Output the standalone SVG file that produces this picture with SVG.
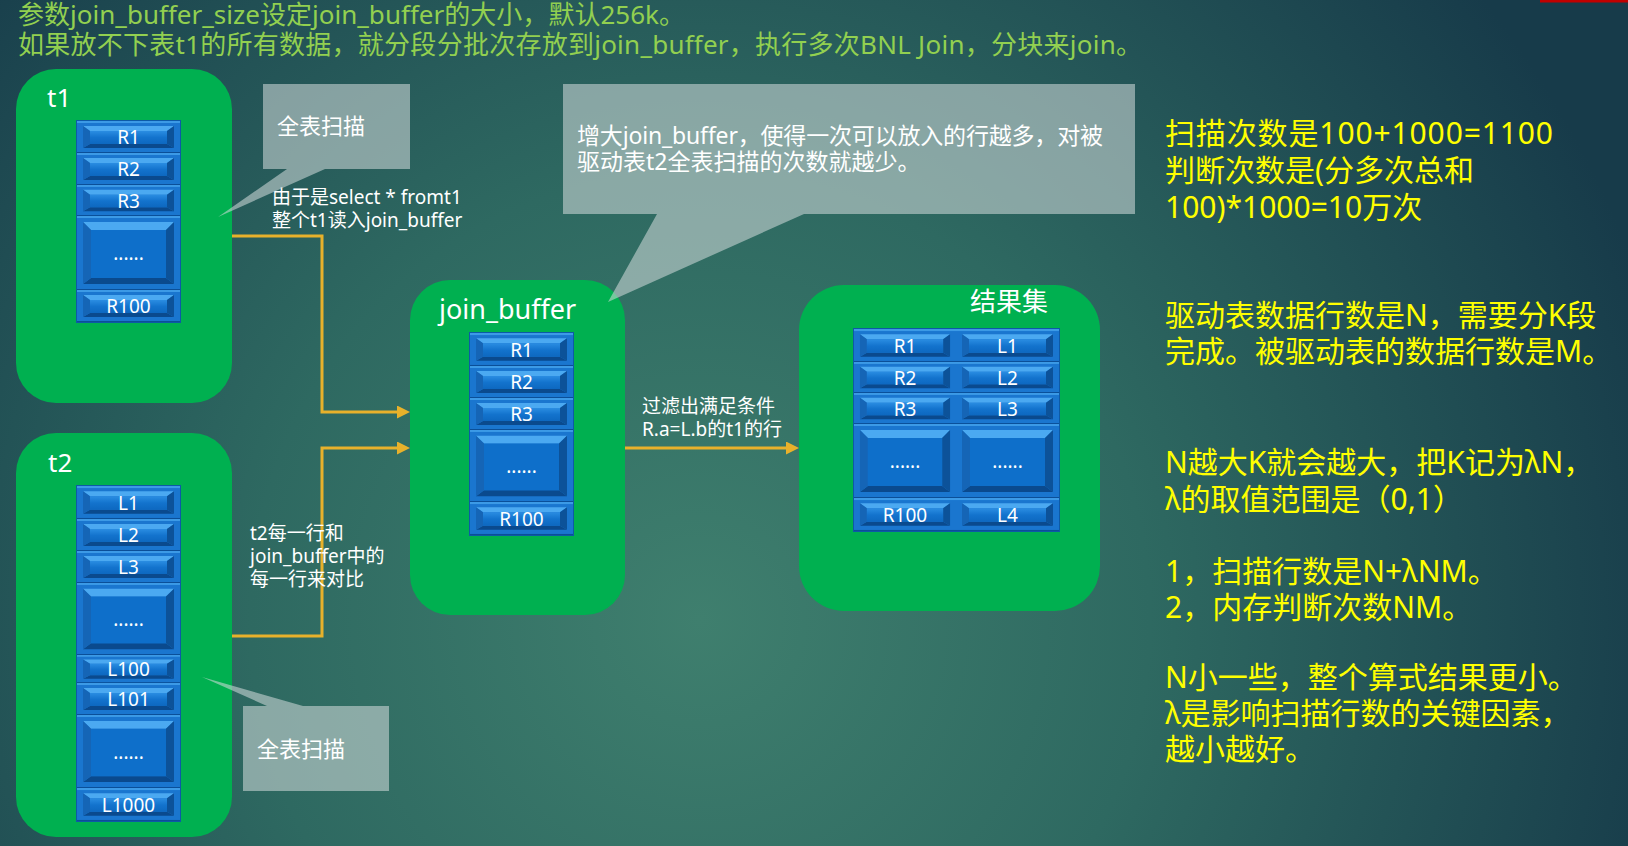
<svg xmlns="http://www.w3.org/2000/svg" width="1628" height="846" viewBox="0 0 1628 846">
<defs>
  <radialGradient id="bg" gradientUnits="userSpaceOnUse" cx="700" cy="620" r="1000">
    <stop offset="0" stop-color="#3f7f6e"/>
    <stop offset="0.45" stop-color="#2e6961"/>
    <stop offset="1" stop-color="#173b4a"/>
  </radialGradient>
  <linearGradient id="face" x1="0" y1="0" x2="0" y2="1">
    <stop offset="0" stop-color="#2a8de2"/>
    <stop offset="0.5" stop-color="#1373cd"/>
    <stop offset="1" stop-color="#0d68c0"/>
  </linearGradient>
  <symbol id="cs" viewBox="0 0 103 32" preserveAspectRatio="none">
    <rect width="103" height="32" fill="#1a76cf"/>
    <rect width="103" height="2" fill="#3c9ae6"/>
    <rect y="31" width="103" height="1" fill="#0b4f98"/>
    <polygon points="6,5 97,5 90,10 13,10" fill="#4ba9f1"/>
    <polygon points="6,27 97,27 90,23 13,23" fill="#0a4a8e"/>
    <polygon points="6,5 13,10 13,23 6,27" fill="#1565b6"/>
    <polygon points="97,5 90,10 90,23 97,27" fill="#0c5299"/>
    <rect x="13" y="10" width="77" height="13" fill="url(#face)"/>
  </symbol>
  <symbol id="cl" viewBox="0 0 103 74" preserveAspectRatio="none">
    <rect width="103" height="74" fill="#1a76cf"/>
    <rect width="103" height="2" fill="#3c9ae6"/>
    <rect y="73" width="103" height="1" fill="#0b4f98"/>
    <polygon points="6,6 97,6 89,14 14,14" fill="#4ba9f1"/>
    <polygon points="6,68 97,68 89,62 14,62" fill="#0a4a8e"/>
    <polygon points="6,6 14,14 14,62 6,68" fill="#1565b6"/>
    <polygon points="97,6 89,14 89,62 97,68" fill="#0c5299"/>
    <rect x="14" y="14" width="75" height="48" fill="#0e6fca"/>
  </symbol>
  <marker id="arr" markerUnits="userSpaceOnUse" markerWidth="13" markerHeight="13" refX="5" refY="6.5" orient="auto">
    <path d="M0,0 L13,6.5 L0,13 Z" fill="#e8b12b"/>
  </marker>
  <style>
    text { font-family: "Noto Sans", "Noto Sans CJK SC", sans-serif; }
    .title { font-size: 26px; fill: #92d050; }
    .node { fill: #00b050; }
    .lbl { font-size: 26px; fill: #ffffff; }
    .col { fill: #0d5aa6; }
    .ct { font-size: 19px; fill: #ffffff; text-anchor: middle; }
    .small { font-size: 19px; fill: #ffffff; }
    .callout { fill: #d2dcdb; fill-opacity: 0.56; }
    .ctext { font-size: 22px; fill: #ffffff; }
    .big { font-size: 23px; }
    .yel { font-size: 30px; fill: #ffff00; }
  </style>
</defs>

<rect x="0" y="0" width="1628" height="846" fill="url(#bg)"/>
<rect x="1540" y="0" width="88" height="2.5" fill="#c00000"/>

<g id="title">
  <text class="title" x="18" y="24" textLength="667" lengthAdjust="spacing">参数join_buffer_size设定join_buffer的大小，默认256k。</text>
  <text class="title" x="18" y="54" textLength="1124" lengthAdjust="spacing">如果放不下表t1的所有数据，就分段分批次存放到join_buffer，执行多次BNL Join，分块来join。</text>
</g>

<g id="node-t1">
  <rect class="node" x="16" y="69" width="216" height="334" rx="40"/>
  <text class="lbl" x="47" y="107">t1</text>
  <rect class="col" x="76" y="120" width="105" height="203"/>
  <use href="#cs" x="77" y="121" width="103" height="32"/>
  <use href="#cs" x="77" y="153" width="103" height="32"/>
  <use href="#cs" x="77" y="185" width="103" height="31"/>
  <use href="#cl" x="77" y="216" width="103" height="74"/>
  <use href="#cs" x="77" y="290" width="103" height="32"/>
  <text class="ct" x="128.5" y="144">R1</text>
  <text class="ct" x="128.5" y="176">R2</text>
  <text class="ct" x="128.5" y="207.5">R3</text>
  <text class="ct" x="128.5" y="260">......</text>
  <text class="ct" x="128.5" y="313">R100</text>
</g>

<g id="node-t2">
  <rect class="node" x="16" y="433" width="216" height="404" rx="40"/>
  <text class="lbl" x="48" y="472">t2</text>
  <rect class="col" x="76" y="485" width="105" height="337"/>
  <use href="#cs" x="77" y="486" width="103" height="33"/>
  <use href="#cs" x="77" y="519" width="103" height="32"/>
  <use href="#cs" x="77" y="551" width="103" height="32"/>
  <use href="#cl" x="77" y="583" width="103" height="72"/>
  <use href="#cs" x="77" y="655" width="103" height="28"/>
  <use href="#cs" x="77" y="683" width="103" height="32"/>
  <use href="#cl" x="77" y="715" width="103" height="73"/>
  <use href="#cs" x="77" y="788" width="103" height="33"/>
  <text class="ct" x="128.5" y="509.5">L1</text>
  <text class="ct" x="128.5" y="542">L2</text>
  <text class="ct" x="128.5" y="574">L3</text>
  <text class="ct" x="128.5" y="626">......</text>
  <text class="ct" x="128.5" y="676">L100</text>
  <text class="ct" x="128.5" y="706">L101</text>
  <text class="ct" x="128.5" y="758.5">......</text>
  <text class="ct" x="128.5" y="811.5">L1000</text>
</g>

<g id="node-join-buffer">
  <rect class="node" x="410" y="280" width="215" height="335" rx="40"/>
  <text class="lbl" x="439" y="319" style="font-size:27px">join_buffer</text>
  <rect class="col" x="469" y="332" width="105" height="204"/>
  <use href="#cs" x="470" y="333" width="103" height="33"/>
  <use href="#cs" x="470" y="366" width="103" height="32"/>
  <use href="#cs" x="470" y="398" width="103" height="32"/>
  <use href="#cl" x="470" y="430" width="103" height="72"/>
  <use href="#cs" x="470" y="502" width="103" height="33"/>
  <text class="ct" x="521.5" y="356.5">R1</text>
  <text class="ct" x="521.5" y="389">R2</text>
  <text class="ct" x="521.5" y="421">R3</text>
  <text class="ct" x="521.5" y="473">......</text>
  <text class="ct" x="521.5" y="525.5">R100</text>
</g>

<g id="node-result">
  <rect class="node" x="799" y="285" width="301" height="326" rx="45"/>
  <text class="lbl" x="970" y="311">结果集</text>
  <rect class="col" x="853" y="328" width="207" height="204"/>
  <use href="#cs" x="854" y="329" width="102" height="33"/>
  <use href="#cs" x="854" y="362" width="102" height="31"/>
  <use href="#cs" x="854" y="393" width="102" height="31"/>
  <use href="#cl" x="854" y="424" width="102" height="74"/>
  <use href="#cs" x="854" y="498" width="102" height="33"/>
  <use href="#cs" x="956" y="329" width="103" height="33"/>
  <use href="#cs" x="956" y="362" width="103" height="31"/>
  <use href="#cs" x="956" y="393" width="103" height="31"/>
  <use href="#cl" x="956" y="424" width="103" height="74"/>
  <use href="#cs" x="956" y="498" width="103" height="33"/>
  <text class="ct" x="905" y="352.5">R1</text>
  <text class="ct" x="905" y="384.5">R2</text>
  <text class="ct" x="905" y="415.5">R3</text>
  <text class="ct" x="905" y="468">......</text>
  <text class="ct" x="905" y="521.5">R100</text>
  <text class="ct" x="1007.5" y="352.5">L1</text>
  <text class="ct" x="1007.5" y="384.5">L2</text>
  <text class="ct" x="1007.5" y="415.5">L3</text>
  <text class="ct" x="1007.5" y="468">......</text>
  <text class="ct" x="1007.5" y="521.5">L4</text>
</g>

<g id="connectors" fill="none" stroke="#e8b12b" stroke-width="3">
  <path d="M232,236 H322 V412 H402" marker-end="url(#arr)"/>
  <path d="M232,636 H322 V448 H402" marker-end="url(#arr)"/>
  <path d="M625,448 H791" marker-end="url(#arr)"/>
</g>

<g id="connector-labels">
  <text class="small" x="272" y="204">由于是select * fromt1</text>
  <text class="small" x="272" y="227">整个t1读入join_buffer</text>
  <text class="small" x="250" y="540">t2每一行和</text>
  <text class="small" x="250" y="563">join_buffer中的</text>
  <text class="small" x="250" y="586">每一行来对比</text>
  <text class="small" x="642" y="413">过滤出满足条件</text>
  <text class="small" x="642" y="436">R.a=L.b的t1的行</text>
</g>

<g id="callout-t1-scan">
  <path class="callout" d="M263,84 H410 V169 H325 L218,217 L287,169 H263 Z"/>
  <text class="ctext" x="277" y="134">全表扫描</text>
</g>

<g id="callout-buffer">
  <path class="callout" d="M563,84 H1135 V214 H804 L608,302 L657,214 H563 Z"/>
  <text class="ctext big" x="577" y="144" textLength="526" lengthAdjust="spacing">增大join_buffer，使得一次可以放入的行越多，对被</text>
  <text class="ctext big" x="577" y="170">驱动表t2全表扫描的次数就越少。</text>
</g>

<g id="callout-t2-scan">
  <path class="callout" d="M243,706 H267 L202,677 L303,706 H389 V791 H243 Z"/>
  <text class="ctext" x="257" y="757">全表扫描</text>
</g>

<g id="notes">
  <text class="yel" x="1165" y="144" textLength="388" lengthAdjust="spacing">扫描次数是100+1000=1100</text>
  <text class="yel" x="1165" y="181">判断次数是(分多次总和</text>
  <text class="yel" x="1165" y="218">100)*1000=10万次</text>
  <text class="yel" x="1165" y="326">驱动表数据行数是N，需要分K段</text>
  <text class="yel" x="1165" y="362">完成。被驱动表的数据行数是M。</text>
  <text class="yel" x="1165" y="473">N越大K就会越大，把K记为λN，</text>
  <text class="yel" x="1165" y="510">λ的取值范围是（0,1）</text>
  <text class="yel" x="1165" y="582">1，扫描行数是N+λNM。</text>
  <text class="yel" x="1165" y="618">2，内存判断次数NM。</text>
  <text class="yel" x="1165" y="688">N小一些，整个算式结果更小。</text>
  <text class="yel" x="1165" y="724">λ是影响扫描行数的关键因素，</text>
  <text class="yel" x="1165" y="760">越小越好。</text>
</g>
</svg>
